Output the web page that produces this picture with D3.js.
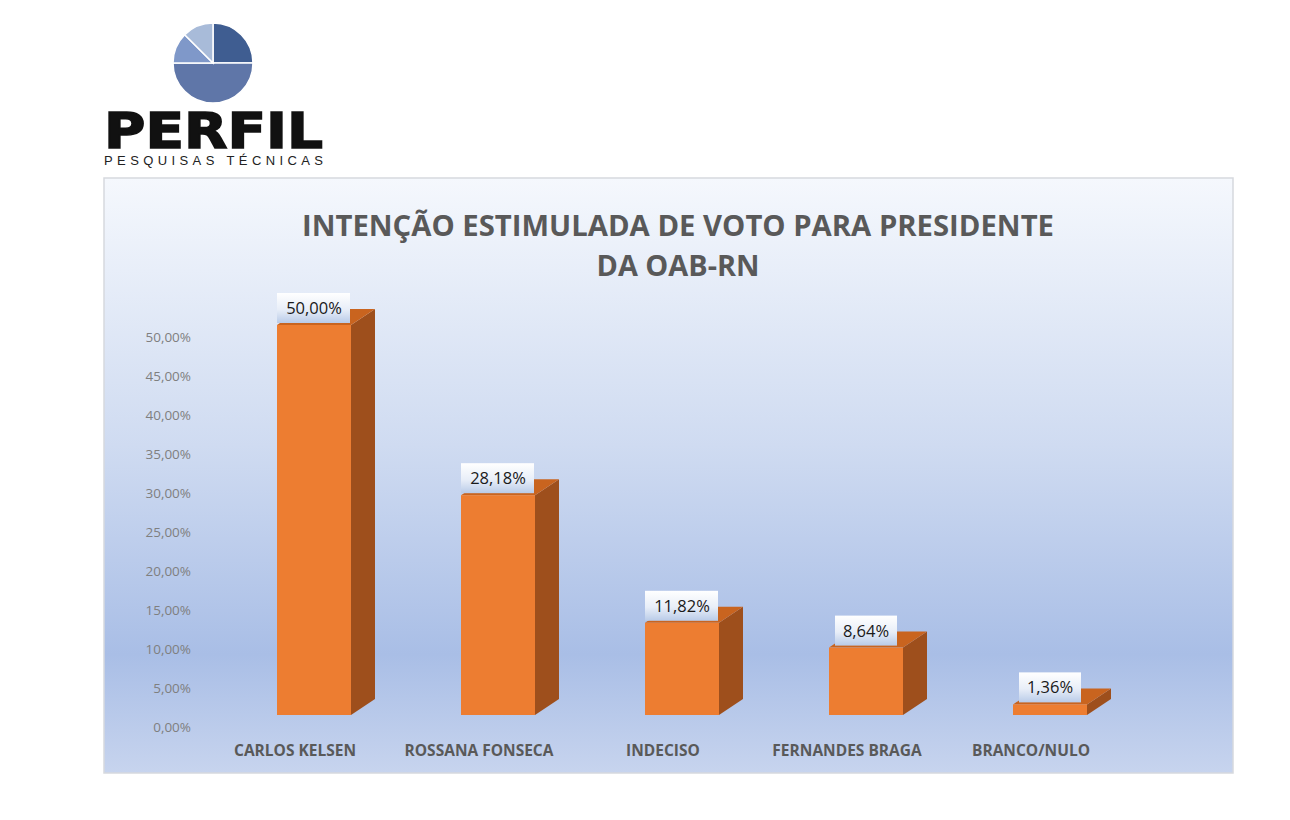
<!DOCTYPE html>
<html>
<head>
<meta charset="utf-8">
<script src="https://cdn.jsdelivr.net/npm/d3@7"></script>
<style>
  body { margin: 0; background: #ffffff; }
  svg { display: block; }
</style>
</head>
<body>
<div id="chart"></div>
<script>
// Chart data
const categories = ["CARLOS KELSEN", "ROSSANA FONSECA", "INDECISO", "FERNANDES BRAGA", "BRANCO/NULO"];
const values = [50.00, 28.18, 11.82, 8.64, 1.36];
const yTicks = [0, 5, 10, 15, 20, 25, 30, 35, 40, 45, 50];
const titleLines = ["INTENÇÃO ESTIMULADA DE VOTO PARA PRESIDENTE", "DA OAB-RN"];

// Logo pie slices (share of the circle)
const logoSlices = [25, 50, 12.5, 12.5];
const logoColors = ["#3f5d91", "#5f76a8", "#7f98c9", "#a8bbd9"];

const W = 1290, H = 820;
const fmt = v => v.toFixed(2).replace(".", ",") + "%";

const svg = d3.select("#chart").append("svg")
    .attr("width", W)
    .attr("height", H);

const defs = svg.append("defs");

// Chart background gradient
const bg = defs.append("linearGradient")
    .attr("id", "bg").attr("x1", 0).attr("y1", 0).attr("x2", 0).attr("y2", 1);
bg.append("stop").attr("offset", "0%").attr("stop-color", "#f5f8fd");
bg.append("stop").attr("offset", "45%").attr("stop-color", "#cfdbf1");
bg.append("stop").attr("offset", "80%").attr("stop-color", "#a9bee6");
bg.append("stop").attr("offset", "100%").attr("stop-color", "#c7d4ee");

// Data label box gradient
const lb = defs.append("linearGradient")
    .attr("id", "lbl").attr("x1", 0).attr("y1", 0).attr("x2", 0).attr("y2", 1);
lb.append("stop").attr("offset", "0%").attr("stop-color", "#ffffff");
lb.append("stop").attr("offset", "55%").attr("stop-color", "#e8eef8");
lb.append("stop").attr("offset", "100%").attr("stop-color", "#b9cbe8");

// ---- Logo ----
const logo = svg.append("g").attr("transform", "translate(213,63)");
const pie = d3.pie().sort(null).value(d => d);
const arc = d3.arc().innerRadius(0).outerRadius(40);
logo.selectAll("path")
    .data(pie(logoSlices))
    .enter()
    .append("path")
    .attr("d", arc)
    .attr("fill", (d, i) => logoColors[i])
    .attr("stroke", "#ffffff")
    .attr("stroke-width", 1.5);

svg.append("text")
    .attr("x", 104).attr("y", 148)
    .attr("textLength", 219).attr("lengthAdjust", "spacingAndGlyphs")
    .attr("font-family", "'DejaVu Sans', sans-serif")
    .attr("font-weight", "bold")
    .attr("font-size", 49)
    .attr("fill", "#111111")
    .attr("stroke", "#111111")
    .attr("stroke-width", 1.5)
    .text("PERFIL");

svg.append("text")
    .attr("x", 104).attr("y", 165)
    .attr("textLength", 219).attr("lengthAdjust", "spacing")
    .attr("font-family", "'Liberation Sans Narrow', 'Liberation Sans', sans-serif")
    .attr("font-size", 13)
    .attr("fill", "#222222")
    .text("PESQUISAS TÉCNICAS");

// ---- Chart frame ----
svg.append("rect")
    .attr("x", 104).attr("y", 178)
    .attr("width", 1129).attr("height", 595)
    .attr("fill", "url(#bg)")
    .attr("stroke", "#d6d9de")
    .attr("stroke-width", 1.5);

// Title
svg.append("g").selectAll("text")
    .data(titleLines)
    .enter()
    .append("text")
    .attr("x", 678)
    .attr("y", (d, i) => 236 + i * 40)
    .attr("text-anchor", "middle")
    .attr("font-family", "'Open Sans', sans-serif")
    .attr("font-weight", "bold")
    .attr("font-size", 29)
    .attr("fill", "#595959")
    .attr("textLength", (d, i) => i === 0 ? 752 : 163)
    .attr("lengthAdjust", "spacingAndGlyphs")
    .text(d => d);

// Scales
const x = d3.scaleBand().domain(categories).range([203, 1123]);
const y = d3.scaleLinear().domain([0, 50]).range([715, 325]);
const yAxisScale = d3.scaleLinear().domain([0, 50]).range([727, 337]);

const depthX = 24, depthY = -16, barW = 74;
const frontX = d => x(d) + x.bandwidth() / 2 - 18;

// Y axis (labels only)
const yAxis = svg.append("g")
    .attr("transform", "translate(191,0)")
    .call(d3.axisLeft(yAxisScale).tickValues(yTicks).tickSize(0).tickPadding(0).tickFormat(fmt));
yAxis.select(".domain").remove();
yAxis.selectAll("text")
    .attr("font-family", "'Open Sans', sans-serif")
    .attr("font-size", 13.5)
    .attr("fill", "#7f7f7f");

// X axis (labels only)
const xAxis = svg.append("g")
    .attr("transform", "translate(0,740)")
    .call(d3.axisBottom(x).tickSize(0).tickPadding(0));
xAxis.select(".domain").remove();
xAxis.selectAll("text")
    .attr("font-family", "'Open Sans', sans-serif")
    .attr("font-weight", "bold")
    .attr("font-size", 15.5)
    .attr("fill", "#595959")
    .attr("dy", "1em");

// Bars (3D)
const bars = svg.append("g").selectAll("g")
    .data(categories.map((c, i) => ({ c: c, v: values[i] })))
    .enter()
    .append("g");

// side face
bars.append("path")
    .attr("d", d => {
        const x0 = frontX(d.c) + barW, yt = y(d.v), yb = y(0);
        return `M${x0},${yb} L${x0},${yt} L${x0 + depthX},${yt + depthY} L${x0 + depthX},${yb + depthY} Z`;
    })
    .attr("fill", "#9e4f1c");

// top face
bars.append("path")
    .attr("d", d => {
        const x0 = frontX(d.c), yt = y(d.v);
        return `M${x0},${yt} L${x0 + barW},${yt} L${x0 + barW + depthX},${yt + depthY} L${x0 + depthX},${yt + depthY} Z`;
    })
    .attr("fill", "#c9641f");

// front face
bars.append("rect")
    .attr("x", d => frontX(d.c))
    .attr("y", d => y(d.v))
    .attr("width", barW)
    .attr("height", d => y(0) - y(d.v))
    .attr("fill", "#ed7d31");

// Data labels
bars.append("rect")
    .attr("x", d => frontX(d.c) + barW / 2 - (d.v >= 10 ? 37 : 31))
    .attr("y", d => y(d.v) - 32)
    .attr("width", d => d.v >= 10 ? 73 : 62)
    .attr("height", 30)
    .attr("fill", "url(#lbl)");

bars.append("text")
    .attr("x", d => frontX(d.c) + barW / 2)
    .attr("y", d => y(d.v) - 11)
    .attr("text-anchor", "middle")
    .attr("font-family", "'Open Sans', sans-serif")
    .attr("font-size", 16.5)
    .attr("fill", "#1a1a1a")
    .text(d => fmt(d.v));
</script>
</body>
</html>
